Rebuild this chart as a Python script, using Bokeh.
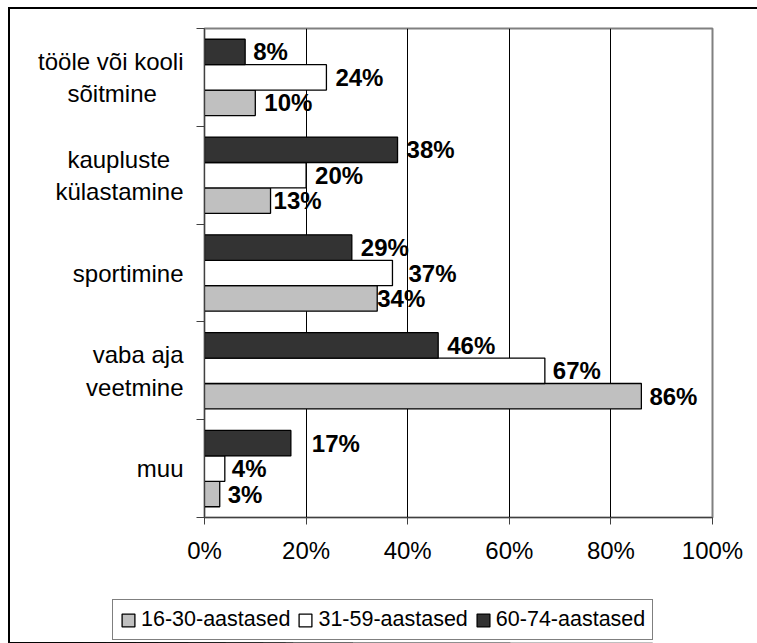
from bokeh.plotting import figure
from bokeh.models import Range1d, FixedTicker, Legend, LegendItem, ColumnDataSource
from bokeh.transform import dodge
from bokeh.core.properties import value
from bokeh.embed import file_html
from bokeh.resources import INLINE

# ---- data ----
NB = "\u00a0"
CATEGORIES = ["tööle või kooli\nsõitmine" + NB * 4, "kaupluste" + NB * 2 + "\nkülastamine",
              "sportimine", "vaba aja\nveetmine", "muu"]
SERIES = ["16-30-aastased", "31-59-aastased", "60-74-aastased"]
V_16_30 = [10, 13, 34, 86, 3]
V_31_59 = [24, 20, 37, 67, 4]
V_60_74 = [8, 38, 29, 46, 17]
X_TICKS = [0, 20, 40, 60, 80, 100]
X_TICK_LABELS = ["0%", "20%", "40%", "60%", "80%", "100%"]

# ---- style ----
COLORS = ["#C0C0C0", "#FFFFFF", "#333333"]
OFFSETS = [-0.26, 0.0, 0.26]
BAR_H = 0.26
LABEL_NUDGE = [[9, 3, 0, 8, 8], [9, 9, 16, 8, 7], [8, 9, 9, 9, 21]]
FONT = "Liberation Sans"

n = len(CATEGORIES)
centers = [n - i - 0.5 for i in range(n)]

p = figure(width=749, height=580, output_backend="svg", toolbar_location=None,
           x_range=Range1d(0, 100), y_range=Range1d(0, n),
           min_border_left=196, min_border_right=45, min_border_top=21,
           min_border_bottom=70)
p.styles = {"margin-left": "8px", "margin-top": "7px",
            "box-shadow": "inset 2px 2px 0 0 black"}
p.background_fill_color = "white"
p.border_fill_alpha = 0
p.outline_line_color = "#808080"
p.outline_line_width = 2

# legend strip (separate root so it is not aligned to the plot frame)
q = figure(width=749, height=56, output_backend="svg", toolbar_location=None,
           x_axis_location=None, y_axis_location=None, min_border=0,
           x_range=Range1d(0, 100), y_range=Range1d(100, 101))
q.styles = {"margin-left": "8px", "box-shadow": "inset 2px 0 0 0 black"}
q.outline_line_color = None
q.background_fill_alpha = 0
q.border_fill_alpha = 0
q.grid.grid_line_color = None

items = []
for k, (name, vals) in enumerate(zip(SERIES, [V_16_30, V_31_59, V_60_74])):
    src = ColumnDataSource(dict(y=centers, v=vals, label=[f"{v}%" for v in vals],
                                nudge=LABEL_NUDGE[k]))
    bar_kw = dict(y=dodge("y", OFFSETS[k]), left=0, right="v", height=BAR_H, source=src,
                  fill_color=COLORS[k], line_color="black", line_width=1.3)
    p.hbar(**bar_kw)
    p.text(x="v", y=dodge("y", OFFSETS[k]), text="label", source=src,
           x_offset="nudge", text_baseline="middle", text_align="left",
           text_font=value(FONT), text_font_size="24px", text_font_style="bold",
           text_color="black")
    # same bars in the legend strip (out of its visible range) to give the swatch
    r = q.hbar(**bar_kw)
    items.append(LegendItem(label=name, renderers=[r]))

# x axis
p.xaxis.ticker = FixedTicker(ticks=X_TICKS)
p.xaxis.major_label_overrides = {t: l for t, l in zip(X_TICKS, X_TICK_LABELS)}
p.xaxis.major_label_text_font = FONT
p.xaxis.major_label_text_font_size = "24px"
p.xaxis.major_label_text_color = "black"
p.xaxis.major_label_standoff = 12
p.xaxis.major_tick_out = 7
p.xaxis.major_tick_in = 0
p.xaxis.major_tick_line_color = "#404040"
p.xaxis.minor_tick_line_color = None
p.xaxis.axis_line_color = "#404040"
p.xaxis.axis_line_width = 1

# y axis: labels at centres, ticks at boundaries
p.yaxis.ticker = FixedTicker(ticks=centers, minor_ticks=list(range(n + 1)))
p.yaxis.major_label_overrides = {c: lab for c, lab in zip(centers, CATEGORIES)}
p.yaxis.major_label_text_font = FONT
p.yaxis.major_label_text_font_size = "24px"
p.yaxis.major_label_text_color = "black"
p.yaxis.major_tick_line_color = None
p.yaxis.major_tick_out = 0
p.yaxis.major_tick_in = 0
p.yaxis.major_label_standoff = 13
p.yaxis.minor_tick_out = 8
p.yaxis.minor_tick_in = 0
p.yaxis.minor_tick_line_color = "#404040"
p.yaxis.axis_line_color = "#404040"

# grid
p.xgrid.ticker = FixedTicker(ticks=X_TICKS[1:-1])
p.xgrid.grid_line_color = "black"
p.xgrid.grid_line_width = 1
p.ygrid.grid_line_color = None

legend = Legend(items=items, orientation="horizontal", location=(104, 3),
                label_text_font=FONT, label_text_font_size="21.5px",
                label_text_color="black", glyph_width=16, glyph_height=16,
                label_standoff=5, spacing=7, padding=7, margin=0,
                border_line_color="black", border_line_width=1,
                background_fill_color="white", background_fill_alpha=1)
q.add_layout(legend, "center")

open("out.html", "w").write(file_html([p, q], INLINE))
